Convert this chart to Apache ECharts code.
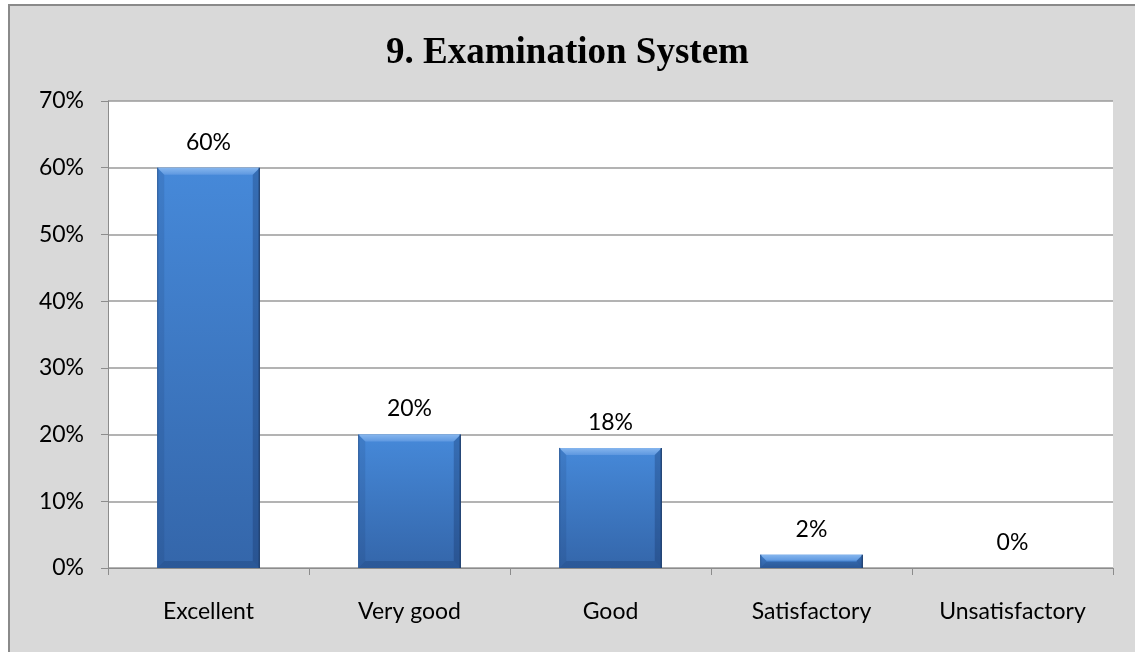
<!DOCTYPE html>
<html>
<head>
<meta charset="utf-8">
<script src="https://cdn.jsdelivr.net/npm/echarts@6/dist/echarts.min.js"></script>
<style>
  html, body { margin: 0; padding: 0; background: #ffffff; }
  #chart { width: 1135px; height: 652px; }
</style>
</head>
<body>
<div id="chart"></div>
<script>
// Survey responses for item 9
const categories = ['Excellent', 'Very good', 'Good', 'Satisfactory', 'Unsatisfactory'];
const shares = [60, 20, 18, 2, 0];
const titleText = '9. Examination System';

const BAR_RATIO = 0.51;

const chart = echarts.init(document.getElementById('chart'));

// bar body: lighter at the top, deeper towards the base
const barFill = new echarts.graphic.LinearGradient(0, 0, 0, 1, [
  { offset: 0, color: '#4689d9' },
  { offset: 1, color: '#3466aa' }
]);

// a zero-height bar draws nothing, not even its outline
const barData = shares.map(v => ({
  value: v,
  itemStyle: v === 0 ? { borderWidth: 0, opacity: 0 } : {}
}));

// bevelled edges laid over each bar
function renderBevel(params, api) {
  const v = api.value(1);
  if (!v) return null;
  const top = api.coord([api.value(0), v]);
  const base = api.coord([api.value(0), 0]);
  const w = api.size([1, 0])[0] * BAR_RATIO;
  const x0 = top[0] - w / 2, x1 = top[0] + w / 2;
  const y0 = top[1], y1 = base[1];
  const b = Math.min(7, (y1 - y0) / 2.2);
  const face = (pts, fill) => ({
    type: 'polygon',
    shape: { points: pts },
    style: { fill: fill },
    silent: true
  });
  return {
    type: 'group',
    children: [
      face([[x0, y0], [x1, y0], [x1 - b, y0 + b], [x0 + b, y0 + b]],
        new echarts.graphic.LinearGradient(0, 0, 0, 1, [
          { offset: 0, color: '#86b6ee' },
          { offset: 1, color: '#5e98e0' }
        ])),
      face([[x0, y0], [x0 + b, y0 + b], [x0 + b, y1 - b], [x0, y1]], 'rgba(20,50,100,0.14)'),
      face([[x1, y0], [x1, y1], [x1 - b, y1 - b], [x1 - b, y0 + b]], 'rgba(15,40,85,0.28)'),
      face([[x0, y1], [x0 + b, y1 - b], [x1 - b, y1 - b], [x1, y1]], 'rgba(15,40,85,0.22)'),
      {
        type: 'line',
        shape: { x1: x1 - 0.5, y1: y0, x2: x1 - 0.5, y2: y1 },
        style: { stroke: '#1d3d6c', lineWidth: 1.2 },
        silent: true
      },
      {
        type: 'line',
        shape: { x1: x0 + 0.5, y1: y0, x2: x0 + 0.5, y2: y1 },
        style: { stroke: '#2b5a98', lineWidth: 1 },
        silent: true
      }
    ]
  };
}

chart.setOption({
  animation: false,
  graphic: [{
    type: 'rect',
    z: -10,
    shape: { x: 9, y: 5, width: 1200, height: 1000 },
    style: { fill: '#d9d9d9', stroke: '#8a8a8a', lineWidth: 2 }
  }],
  title: {
    text: titleText,
    left: 'center',
    top: 30,
    textStyle: {
      fontFamily: 'Liberation Serif',
      fontWeight: 'bold',
      fontSize: 37,
      color: '#000'
    }
  },
  grid: {
    left: 108,
    right: 22,
    top: 101,
    bottom: 84,
    show: true,
    backgroundColor: '#ffffff',
    borderWidth: 0
  },
  xAxis: {
    type: 'category',
    data: categories,
    axisLine: { lineStyle: { color: '#8c8c8c', width: 1 } },
    axisTick: { show: true, length: 7, lineStyle: { color: '#8c8c8c' } },
    axisLabel: {
      margin: 32,
      fontFamily: 'Lato',
      fontSize: 23,
      color: '#000'
    }
  },
  yAxis: {
    type: 'value',
    min: 0,
    max: 70,
    interval: 10,
    axisLine: { show: true, lineStyle: { color: '#8c8c8c', width: 1 } },
    axisTick: { show: true, length: 7, lineStyle: { color: '#8c8c8c' } },
    splitLine: { lineStyle: { color: '#9a9a9a', width: 1.5 } },
    axisLabel: {
      formatter: '{value}%',
      margin: 24,
      fontFamily: 'Lato',
      fontSize: 23,
      color: '#000'
    }
  },
  series: [{
    type: 'bar',
    data: barData,
    barWidth: (BAR_RATIO * 100) + '%',
    itemStyle: {
      color: barFill,
      borderWidth: 0
    },
    label: {
      show: true,
      position: 'top',
      distance: 14,
      formatter: '{c}%',
      fontFamily: 'Lato',
      fontSize: 23,
      color: '#000',
      opacity: 1
    }
  }, {
    type: 'custom',
    renderItem: renderBevel,
    data: shares.map((v, i) => [i, v]),
    z: 3,
    silent: true
  }]
});
</script>
</body>
</html>
